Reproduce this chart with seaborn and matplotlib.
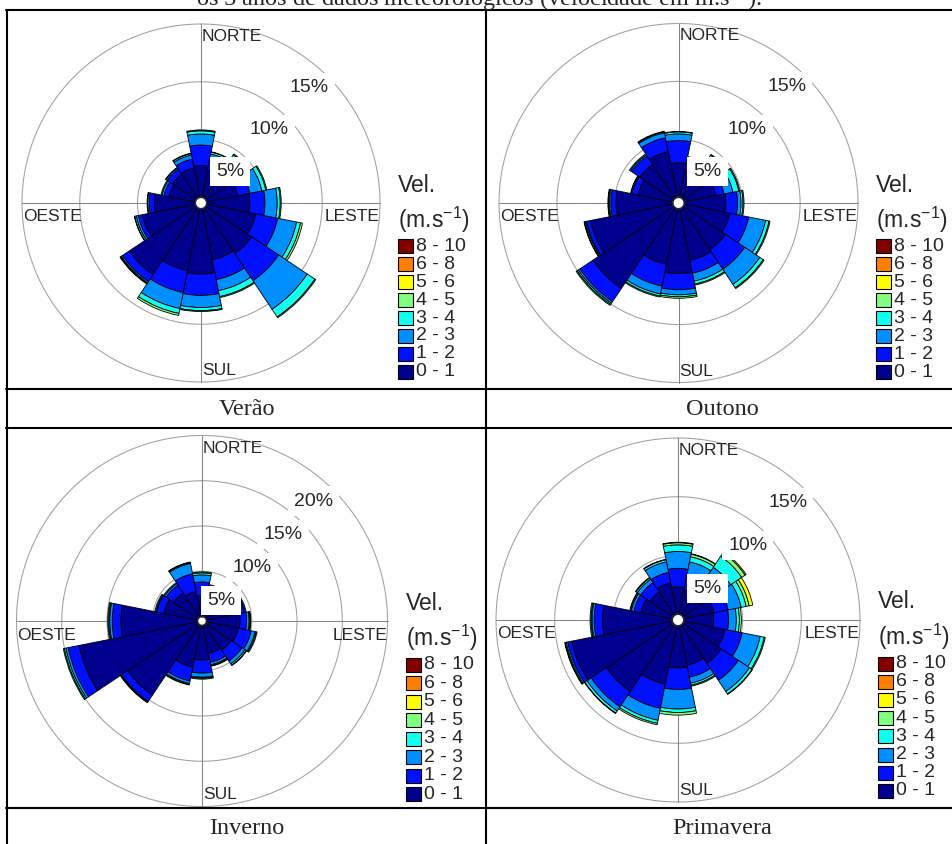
#Import libraries
import numpy as np
import matplotlib
matplotlib.use('Agg')
import matplotlib.pyplot as plt
from matplotlib.patches import Rectangle
from matplotlib.lines import Line2D
import seaborn as sns

#Data: wind frequency (%) per direction (16 sectors, clockwise from north) and speed class
directions = ['N', 'NNE', 'NE', 'ENE', 'E', 'ESE', 'SE', 'SSE',
              'S', 'SSW', 'SW', 'WSW', 'W', 'WNW', 'NW', 'NNW']
speed_classes = ['0 - 1', '1 - 2', '2 - 3', '3 - 4', '4 - 5', '5 - 6', '6 - 8', '8 - 10']
class_colors = ['#00008f', '#0010ff', '#008fff', '#10ffef', '#80ff80', '#ffff00', '#ff8000', '#800000']
compass_labels = ['NORTE', 'LESTE', 'SUL', 'OESTE']
season_names = ['Verão', 'Outono', 'Inverno', 'Primavera']
rings_15 = [5, 10, 15]
rings_20 = [5, 10, 15, 20]
title_text = 'os 5 anos de dados meteorológicos (velocidade em m.s$^{-1}$).'
no_wind = [0.0] * 16

verao_0_1 = [2.76, 2.41, 2.59, 2.76, 3.73, 4.34, 4.78, 4.52, 5.66, 5.48, 6.97, 4.69, 3.55, 2.32, 2.50, 2.59]
verao_1_2 = [1.76, 0.97, 0.87, 1.06, 1.31, 1.93, 2.81, 1.75, 1.84, 1.93, 0.71, 0.35, 0.44, 0.44, 0.53, 0.79]
verao_2_3 = [0.96, 0.44, 0.79, 1.05, 1.06, 1.67, 2.98, 0.97, 1.05, 1.41, 0.13, 0.18, 0.13, 0.18, 0.13, 0.35]
verao_3_4 = [0.27, 0.17, 0.27, 0.35, 0.26, 0.35, 0.79, 0.52, 0.27, 0.43, 0.08, 0.13, 0.05, 0.09, 0.04, 0.13]
verao_4_5 = [0.08, 0.03, 0.09, 0.09, 0.09, 0.17, 0.09, 0.09, 0.08, 0.18, 0.05, 0.03, 0.00, 0.00, 0.00, 0.04]

outono_0_1 = [2.98, 2.37, 2.64, 2.81, 3.59, 4.03, 4.38, 4.55, 5.60, 4.90, 8.39, 7.25, 4.90, 3.07, 3.51, 4.03]
outono_1_2 = [1.92, 0.88, 0.78, 0.70, 1.01, 1.65, 2.00, 1.13, 1.39, 1.92, 1.35, 0.35, 0.44, 0.52, 0.87, 1.22]
outono_2_3 = [0.57, 0.26, 0.61, 0.78, 0.30, 1.49, 1.57, 0.70, 0.44, 0.69, 0.17, 0.09, 0.13, 0.09, 0.13, 0.43]
outono_3_4 = [0.17, 0.08, 0.44, 0.52, 0.17, 0.30, 0.35, 0.26, 0.17, 0.18, 0.13, 0.09, 0.08, 0.04, 0.09, 0.09]
outono_4_5 = [0.04, 0.00, 0.08, 0.09, 0.09, 0.09, 0.09, 0.09, 0.13, 0.09, 0.09, 0.04, 0.05, 0.00, 0.00, 0.05]

inverno_0_1 = [2.27, 2.27, 2.83, 3.49, 3.71, 3.60, 3.38, 3.16, 3.82, 4.71, 9.37, 13.36, 8.48, 3.82, 3.27, 2.83]
inverno_1_2 = [1.55, 0.89, 0.88, 0.78, 0.72, 1.44, 1.44, 1.00, 1.44, 1.55, 0.83, 1.22, 0.94, 0.78, 1.00, 1.99]
inverno_2_3 = [0.78, 0.33, 0.22, 0.11, 0.28, 0.45, 0.39, 0.27, 0.45, 0.28, 0.05, 0.27, 0.28, 0.11, 0.22, 1.17]
inverno_3_4 = [0.22, 0.11, 0.12, 0.11, 0.11, 0.11, 0.17, 0.11, 0.11, 0.11, 0.06, 0.17, 0.11, 0.11, 0.11, 0.11]
inverno_4_5 = [0.11, 0.00, 0.00, 0.00, 0.08, 0.11, 0.05, 0.06, 0.11, 0.06, 0.05, 0.11, 0.11, 0.00, 0.00, 0.05]

primavera_0_1 = [2.33, 2.11, 2.55, 2.64, 2.55, 3.59, 3.94, 3.42, 3.59, 5.07, 6.82, 8.73, 5.95, 2.72, 2.37, 2.72]
primavera_1_2 = [1.57, 1.31, 1.13, 1.22, 1.26, 1.48, 1.74, 1.05, 1.83, 2.10, 1.57, 0.35, 0.69, 0.61, 0.96, 0.92]
primavera_2_3 = [1.44, 1.13, 1.22, 1.13, 0.66, 1.57, 1.14, 0.52, 1.66, 1.04, 0.43, 0.13, 0.18, 0.22, 0.35, 0.91]
primavera_3_4 = [0.56, 0.44, 1.13, 0.43, 0.26, 0.35, 0.26, 0.17, 0.30, 0.26, 0.22, 0.09, 0.08, 0.09, 0.13, 0.18]
primavera_4_5 = [0.18, 0.22, 0.35, 0.26, 0.17, 0.09, 0.04, 0.09, 0.22, 0.13, 0.04, 0.04, 0.09, 0.04, 0.05, 0.04]
primavera_5_6 = [0.04, 0.04, 0.10, 0.31, 0.00, 0.00, 0.00, 0.00, 0.00, 0.00, 0.00, 0.00, 0.00, 0.00, 0.00, 0.00]

verao = [verao_0_1, verao_1_2, verao_2_3, verao_3_4, verao_4_5, no_wind, no_wind, no_wind]
outono = [outono_0_1, outono_1_2, outono_2_3, outono_3_4, outono_4_5, no_wind, no_wind, no_wind]
inverno = [inverno_0_1, inverno_1_2, inverno_2_3, inverno_3_4, inverno_4_5, no_wind, no_wind, no_wind]
primavera = [primavera_0_1, primavera_1_2, primavera_2_3, primavera_3_4, primavera_4_5, primavera_5_6,
             no_wind, no_wind]

#Style
sns.set_theme(style='white')
plt.rcParams['font.family'] = ['Liberation Sans', 'DejaVu Sans']
plt.rcParams['mathtext.default'] = 'regular'
serif = ['Liberation Serif', 'DejaVu Serif']

W, H = 952, 844
fig = plt.figure(figsize=(W / 100, H / 100), dpi=100)
fig.patch.set_facecolor('white')


def px(x, y):
    #pixel position (from top-left) -> figure fraction
    return x / W, 1 - y / H


theta = np.deg2rad(np.arange(len(directions)) * 360 / len(directions))
width = 2 * np.pi / len(directions)


def draw_rose(cx, cy, R, rings, table):
    ax = fig.add_axes([(cx - R) / W, 1 - (cy + R) / H, 2 * R / W, 2 * R / H], projection='polar')
    rmax = rings[-1]
    ax.set_theta_zero_location('N')
    ax.set_theta_direction(-1)
    ax.set_xticks([])
    ax.set_yticks([])
    ax.grid(False)
    for s in ax.spines.values():
        s.set_visible(False)

    #rings and cross
    circ = np.linspace(0, 2 * np.pi, 361)
    for r in rings:
        ax.plot(circ, np.full_like(circ, r), color='#a0a0a0', lw=0.75, zorder=1, clip_on=False)
    for a in np.deg2rad([0, 90, 180, 270]):
        ax.plot([a, a], [0, rmax], color='#858585', lw=0.75, zorder=1, clip_on=False)

    #stacked sectors
    bottom = np.zeros(len(directions))
    for vals, col in zip(table, class_colors):
        vals = np.asarray(vals, dtype=float)
        m = vals > 0
        if m.any():
            ax.bar(theta[m], vals[m], width=width, bottom=bottom[m], color=col,
                   edgecolor='black', linewidth=0.6, zorder=2)
        bottom += vals

    ax.set_ylim(0, rmax)
    ax.set_rorigin(-0.5)

    #percent labels
    for r in rings:
        ax.text(np.deg2rad(43), r - 0.12 * rmax, f'{r}%', ha='center', va='center',
                fontsize=14, zorder=5, bbox=dict(facecolor='white', edgecolor='none', pad=4.5))

    pos = [(0.503, 0.966, 'left'), (1.0, 0.462, 'right'), (0.503, 0.032, 'left'), (0.003, 0.462, 'left')]
    for txt, (x, y, ha) in zip(compass_labels, pos):
        ax.text(x, y, txt, transform=ax.transAxes, ha=ha, va='center', fontsize=12.5, zorder=6)

    #legend
    lx = cx + R + 18
    fig.text(*px(lx, cy - 18), 'Vel.', fontsize=16.5, ha='left', va='center')
    fig.text(*px(lx, cy + 17), '(m.s$^{-1}$)', fontsize=16.5, ha='left', va='center')
    step = R / 10
    for i, (lab, col) in enumerate(zip(speed_classes[::-1], class_colors[::-1])):
        yc = cy + 43.5 + i * step
        x0, y0 = px(lx, yc + 7)
        fig.add_artist(Rectangle((x0, y0), 15 / W, 14 / H, transform=fig.transFigure,
                                 facecolor=col, edgecolor='black', lw=0.8))
        fig.text(*px(lx + 18, yc), lab, fontsize=14, ha='left', va='center')
    return ax


draw_rose(201, 203, 179, rings_15, verao)
draw_rose(678.5, 203, 179.5, rings_15, outono)
draw_rose(202, 621, 185.5, rings_20, inverno)
draw_rose(678, 620, 182, rings_15, primavera)

#season labels
for name, (x, y) in zip(season_names, [(247, 410), (722, 410), (247, 828), (722, 828)]):
    fig.text(*px(x, y), name, fontsize=17.5, family=serif, ha='center', va='center')

#caption, cut at the top edge as in the source page
fig.text(*px(479, 7), title_text, fontsize=17.5, family=serif, ha='center', va='baseline')

#table borders
for y in [10, 389, 428, 808]:
    fig.add_artist(Line2D([6 / W, 1], [1 - y / H] * 2, transform=fig.transFigure, color='black', lw=1.5))
for x in [7, 486]:
    fig.add_artist(Line2D([x / W] * 2, [1 - 10 / H, 0], transform=fig.transFigure, color='black', lw=1.5))

fig.savefig('out.png', dpi=100)
